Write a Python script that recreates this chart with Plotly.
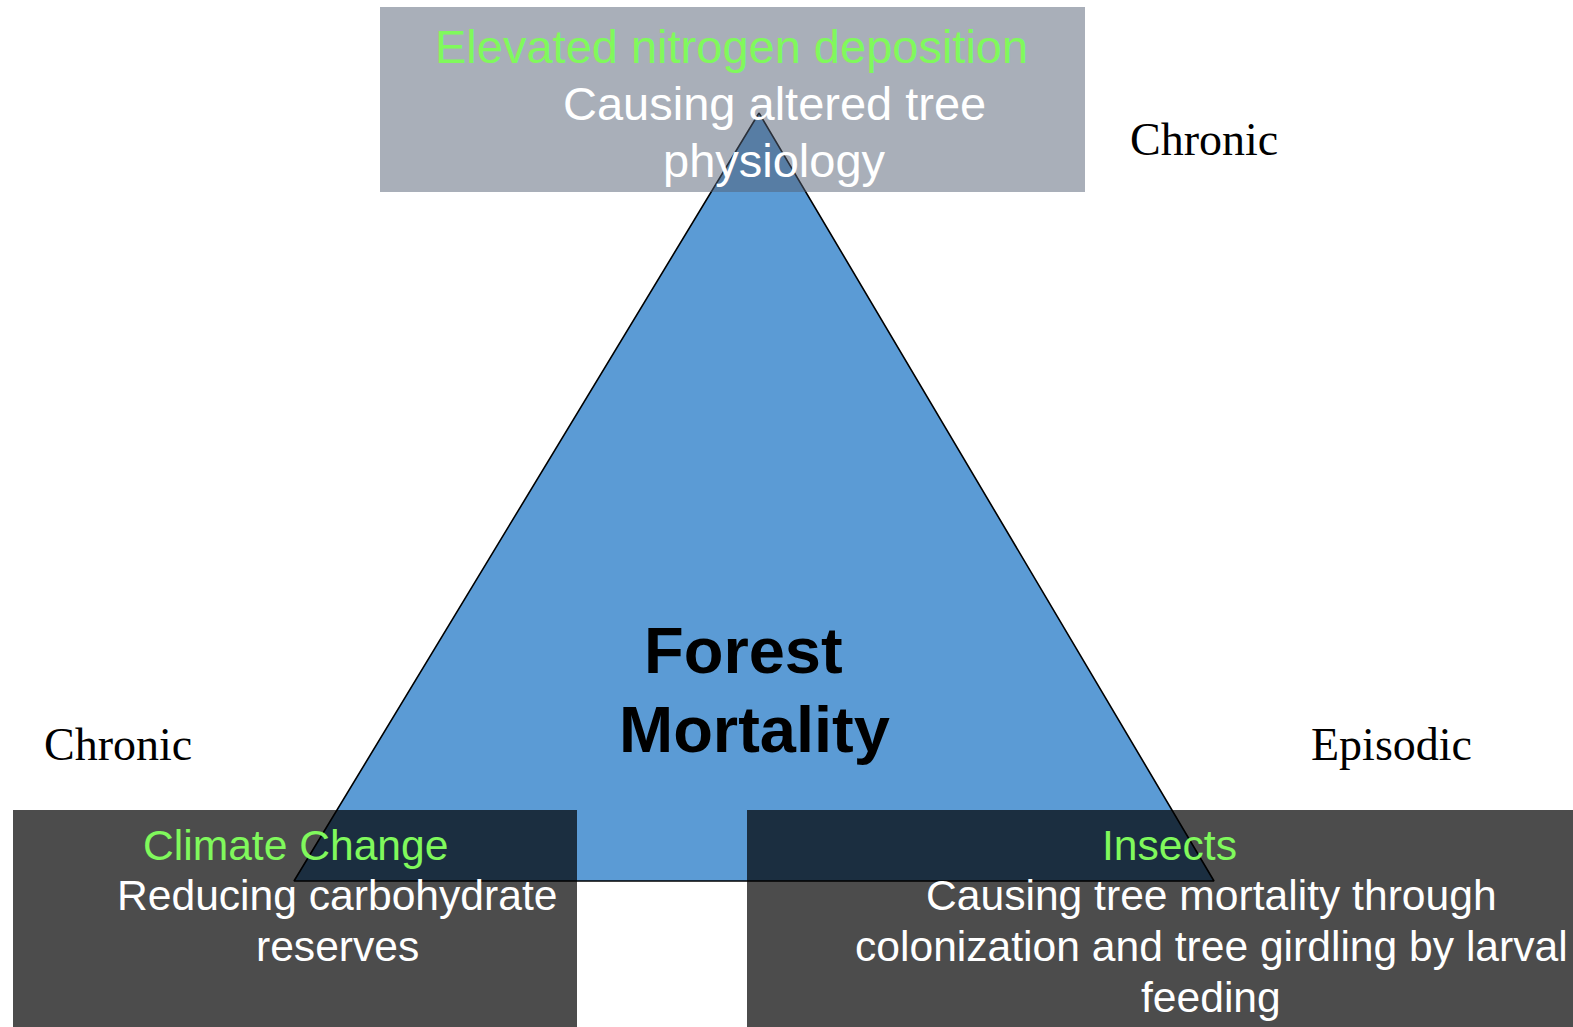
import plotly.graph_objects as go

# ---- data (diagram content) ----
triangle_x = [759, 294, 1214, 759]
triangle_y = [113, 881, 881, 113]

box_titles = ["Elevated nitrogen deposition", "Climate Change", "Insects"]
box_lines = [
    ["Causing altered tree", "physiology"],
    ["Reducing carbohydrate", "reserves"],
    ["Causing tree mortality through", "colonization and tree girdling by larval", "feeding"],
]
side_labels = ["Chronic", "Chronic", "Episodic"]
center_lines = ["Forest", "Mortality"]

# ---- layout geometry ----
W, H = 1573, 1027
boxes = [  # x0, x1, y0, y1, fill
    (380, 1085, 7, 192, "rgba(84,96,116,0.5)"),
    (13, 577, 810, 1030, "rgba(0,0,0,0.70)"),
    (747, 1580, 810, 1030, "rgba(0,0,0,0.70)"),
]
title_pos = [(731, 46), (295, 845), (1169, 845)]
line_pos = [
    [(774, 103), (774, 160)],
    [(337, 895), (337, 946)],
    [(1211, 895), (1211, 946), (1211, 997)],
]
side_pos = [(1204, 139), (118, 744), (1391, 744)]
center_pos = [(743, 650), (754, 729)]

GREEN = "#80F95C"
SANS = "Liberation Sans, Arial, sans-serif"
SERIF = "Liberation Serif, Times New Roman, serif"

fig = go.Figure()
fig.add_trace(go.Scatter(
    x=triangle_x, y=triangle_y, mode="lines", fill="toself",
    fillcolor="#5B9BD5", line=dict(color="black", width=1.6),
    hoverinfo="skip", showlegend=False))

for (x0, x1, y0, y1, fc) in boxes:
    fig.add_shape(type="rect", x0=x0, x1=x1, y0=y0, y1=y1, xref="x", yref="y",
                  fillcolor=fc, line=dict(width=0), layer="above")

anns = []
for t, (x, y) in zip(box_titles, title_pos):
    size = 47 if y < 500 else 42.6
    anns.append(dict(x=x, y=y, text=t, font=dict(family=SANS, size=size, color=GREEN)))
for lines, poss in zip(box_lines, line_pos):
    for i, (t, (x, y)) in enumerate(zip(lines, poss)):
        size = 42.6 if poss[0][1] > 500 else 47
        anns.append(dict(x=x, y=y, text=t, font=dict(family=SANS, size=size, color="white")))
for t, (x, y) in zip(side_labels, side_pos):
    anns.append(dict(x=x, y=y, text=t, font=dict(family=SERIF, size=46, color="black")))
for t, (x, y) in zip(center_lines, center_pos):
    anns.append(dict(x=x, y=y, text="<b>" + t + "</b>", font=dict(family=SANS, size=65, color="black")))

for a in anns:
    a.update(xref="x", yref="y", showarrow=False, xanchor="center", yanchor="middle")

fig.update_layout(
    width=W, height=H, margin=dict(l=0, r=0, t=0, b=0),
    paper_bgcolor="white", plot_bgcolor="white",
    xaxis=dict(range=[0, W], visible=False, fixedrange=True),
    yaxis=dict(range=[H, 0], visible=False, fixedrange=True),
    annotations=anns, showlegend=False)

fig.write_html("out.html", config={"displayModeBar": False},
               post_script="document.body.style.margin='0px';document.body.style.overflow='hidden';")
